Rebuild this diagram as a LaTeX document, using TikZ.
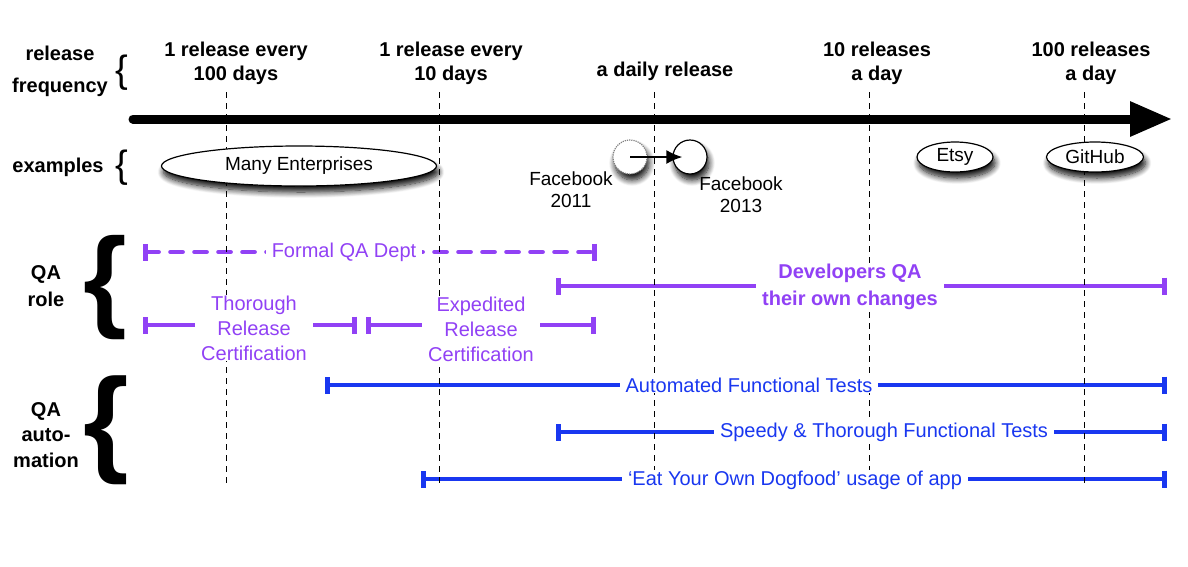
\documentclass[tikz,border=0pt]{standalone}
\usepackage{fontspec}
\setmainfont{Liberation Sans}
\usetikzlibrary{arrows.meta,shapes.geometric,shadows.blur}
\definecolor{qapurple}{RGB}{145,65,245}
\definecolor{qablue}{RGB}{25,55,240}
\tikzset{
  sidelabel/.style={font=\fontsize{20}{24}\selectfont\bfseries, align=center, inner sep=0pt},
  freqlabel/.style={font=\fontsize{20}{24}\selectfont\bfseries, align=center, inner sep=0pt},
  smallbrace/.style={font=\fontsize{38}{38}\selectfont, inner sep=0pt},
  bigbrace/.style={font=\fontsize{112}{112}\selectfont\bfseries, inner sep=0pt},
  freqline/.style={dash pattern=on 6pt off 5pt, line width=0.9pt},
  softshadow/.style={blur shadow={shadow xshift=2pt, shadow yshift=-6pt,
    shadow blur radius=6pt, shadow blur steps=10, shadow opacity=95}},
  example/.style={ellipse, draw, line width=1.2pt, fill=white, inner sep=0pt,
    minimum height=30pt, font=\fontsize{19}{22}\selectfont, softshadow},
  exlabel/.style={font=\fontsize{19}{22}\selectfont, align=center, inner sep=0pt},
  qaspan/.style={line width=4.7pt, {Bar[width=17pt]}-{Bar[width=17pt]}},
  spantext/.style={fill=white, inner xsep=6pt, inner ysep=1pt,
    font=\fontsize{20}{25}\selectfont, align=center},
}
\begin{document}
\begin{tikzpicture}[x=1pt,y=-1pt]
  \useasboundingbox (0,0) rectangle (1188,566);
  % release frequency axis
  \coordinate (axis start) at (133,119);
  \coordinate (axis end) at (1172,119);
  \draw[line width=9pt, line cap=round, -{Triangle[length=42pt,width=33pt]}]
    (axis start) -- (axis end);
  % QA role
  \coordinate (formal start) at (143,252);
  \coordinate (formal end) at (597,252);
  \coordinate (dev start) at (556,286);
  \coordinate (dev end) at (1167,286);
  \coordinate (thorough start) at (143,325);
  \coordinate (thorough end) at (357,325);
  \coordinate (expedited start) at (366,325);
  \coordinate (expedited end) at (596,325);
  \begin{scope}[qapurple]
    \draw[qaspan, dash pattern=on 12pt off 12pt, line cap=round] (formal start) -- (formal end);
    \draw[qaspan] (dev start) -- (dev end);
    \draw[qaspan] (thorough start) -- (thorough end);
    \draw[qaspan] (expedited start) -- (expedited end);
  \end{scope}
  % QA automation
  \coordinate (aft start) at (325,385);
  \coordinate (aft end) at (1167,385);
  \coordinate (stft start) at (556,432);
  \coordinate (stft end) at (1167,432);
  \coordinate (dogfood start) at (421,479);
  \coordinate (dogfood end) at (1167,479);
  \begin{scope}[qablue]
    \draw[qaspan] (aft start) -- (aft end);
    \draw[qaspan] (stft start) -- (stft end);
    \draw[qaspan] (dogfood start) -- (dogfood end);
  \end{scope}
  \foreach \x in {226,439,654,869,1084}
    \draw[freqline] (\x,92) -- (\x,487);
  % left labels
  \node[sidelabel, font=\fontsize{20}{32}\selectfont\bfseries] (freq) at (60,71) {release\\frequency};
  \node[smallbrace] (freq brace) at (122,73) {\{};
  \node[sidelabel] (examples) at (58,167) {examples};
  \node[smallbrace] (examples brace) at (122,168) {\{};
  \node[sidelabel, font=\fontsize{20}{27}\selectfont\bfseries] (role) at (46,286) {QA\\role};
  \node[bigbrace] (role brace) at (105,288) {\{};
  \node[sidelabel, font=\fontsize{20}{25.5}\selectfont\bfseries] (automation) at (46,435) {QA\\auto-\\mation};
  \node[bigbrace, font=\fontsize{117}{117}\selectfont\bfseries] (automation brace) at (106,430) {\{};
  % release frequencies
  \node[freqlabel] (every100) at (236,63) {1 release every\\100 days};
  \node[freqlabel] (every10) at (451,63) {1 release every\\10 days};
  \node[freqlabel] (daily) at (665,71) {a daily release};
  \node[freqlabel] (ten) at (877,63) {10 releases\\a day};
  \node[freqlabel] (hundred) at (1091,63) {100 releases\\a day};
  % examples
  \node[example, minimum width=275pt, minimum height=40pt] (enterprises) at (299,166) {Many Enterprises};
  \node[circle, draw=gray, densely dotted, line width=1.2pt, fill=white, minimum size=34pt,
    softshadow] (fb2011) at (630,157) {};
  \node[circle, draw, line width=1.2pt, fill=white, minimum size=34pt,
    softshadow] (fb2013) at (690,157) {};
  \draw[line width=2pt, -{Latex[length=16pt,width=14pt]}] (fb2011.center) -- ([xshift=10pt]fb2013.west);
  \node[exlabel] (fb2011 label) at (571,190) {Facebook\\2011};
  \node[exlabel] (fb2013 label) at (741,195) {Facebook\\2013};
  \node[example, minimum width=76pt] (etsy) at (955,157) {Etsy};
  \node[example, minimum width=97pt] (github) at (1095,157) {GitHub};
  % span texts
  \begin{scope}[qapurple]
    \node[spantext] (formal) at (344,252) {Formal QA Dept};
    \node[spantext, font=\fontsize{20}{27}\selectfont\bfseries] (dev) at (850,287) {Developers QA\\their own changes};
    \node[spantext] (thorough) at (254,328) {Thorough\\Release\\Certification};
    \node[spantext] (expedited) at (481,329) {Expedited\\Release\\Certification};
  \end{scope}
  \begin{scope}[qablue]
    \node[spantext] (aft) at (749,385) {Automated Functional Tests};
    \node[spantext] (stft) at (884,432) {Speedy \& Thorough Functional Tests};
    \node[spantext] (dogfood) at (795,480) {`Eat Your Own Dogfood' usage of app};
  \end{scope}
\end{tikzpicture}
\end{document}
